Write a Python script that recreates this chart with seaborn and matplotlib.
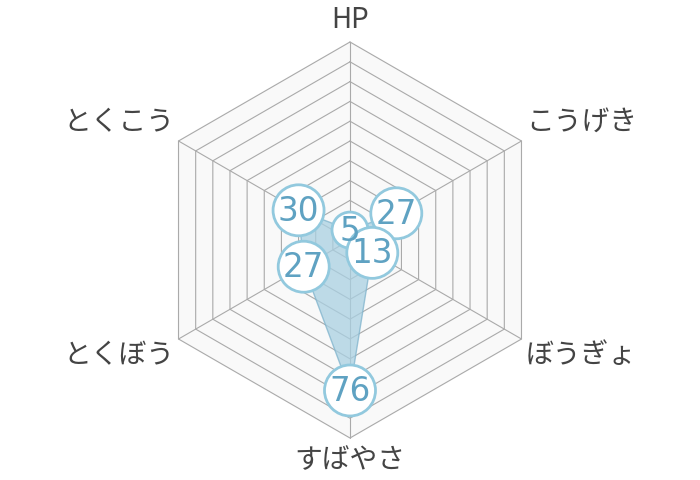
import matplotlib
matplotlib.use('Agg')
import matplotlib.pyplot as plt
import seaborn as sns
import pandas as pd
import numpy as np

categories = ['HP', 'こうげき', 'ぼうぎょ', 'すばやさ', 'とくぼう', 'とくこう']
values = [5, 27, 13, 76, 27, 30]
max_value = 100
n_rings = 10

sns.set_theme(style='white')
plt.rcParams['font.family'] = ['Noto Sans CJK JP', 'DejaVu Sans']

fig = plt.figure(figsize=(7, 4.8), dpi=100, facecolor='white')
ax = fig.add_axes([0, 0, 1, 1])
ax.set_xlim(0, 700)
ax.set_ylim(480, 0)
ax.set_aspect('equal')
ax.axis('off')

cx, cy, R = 350, 240, 198
angles = np.deg2rad(90 - 60 * np.arange(len(categories)))


def to_xy(r):
    r = np.asarray(r, dtype=float)
    return cx + r * np.cos(angles), cy - r * np.sin(angles)


# background hexagon + rings
ox, oy = to_xy(np.full(len(categories), R))
ax.fill(ox, oy, color='#f9f9f9', zorder=0)
for k in range(1, n_rings + 1):
    hx, hy = to_xy(np.full(len(categories), R * k / n_rings))
    ax.plot(np.append(hx, hx[0]), np.append(hy, hy[0]), color='#aaaaaa', lw=0.8, zorder=1)
for x, y in zip(ox, oy):
    ax.plot([cx, x], [cy, y], color='#aaaaaa', lw=0.8, zorder=1)

# data polygon
px, py = to_xy(np.array(values) / max_value * R)
ax.fill(px, py, facecolor='#a9d0e2', alpha=0.75, edgecolor='#7fb3cc', lw=1, zorder=2)

# value bubbles
df = pd.DataFrame({'x': px, 'y': py, 'label': [str(v) for v in values]})
sizes = [(36 if len(s) == 1 else 51) * 0.72 for s in df['label']]
sns.scatterplot(data=df, x='x', y='y', s=np.array(sizes) ** 2, color='white',
                edgecolor='#92c9de', linewidth=2, ax=ax, zorder=3, legend=False)
for i, row in df.iterrows():
    ax.text(row['x'], row['y'] + 1, row['label'], fontsize=23.5, color='#5fa2c2',
            family='DejaVu Sans', ha='center', va='center', zorder=4 + i)
ax.set_xlabel('')
ax.set_ylabel('')

# category labels
offsets = [(0, -22), (60, -19), (60, 16), (0, 22), (-60, 16), (-60, -19)]
for cat, x, y, (dx, dy) in zip(categories, ox, oy, offsets):
    ax.text(x + dx, y + dy, cat, fontsize=20, color='#444444', ha='center', va='center')

plt.savefig('out.png', dpi=100, facecolor='white')
